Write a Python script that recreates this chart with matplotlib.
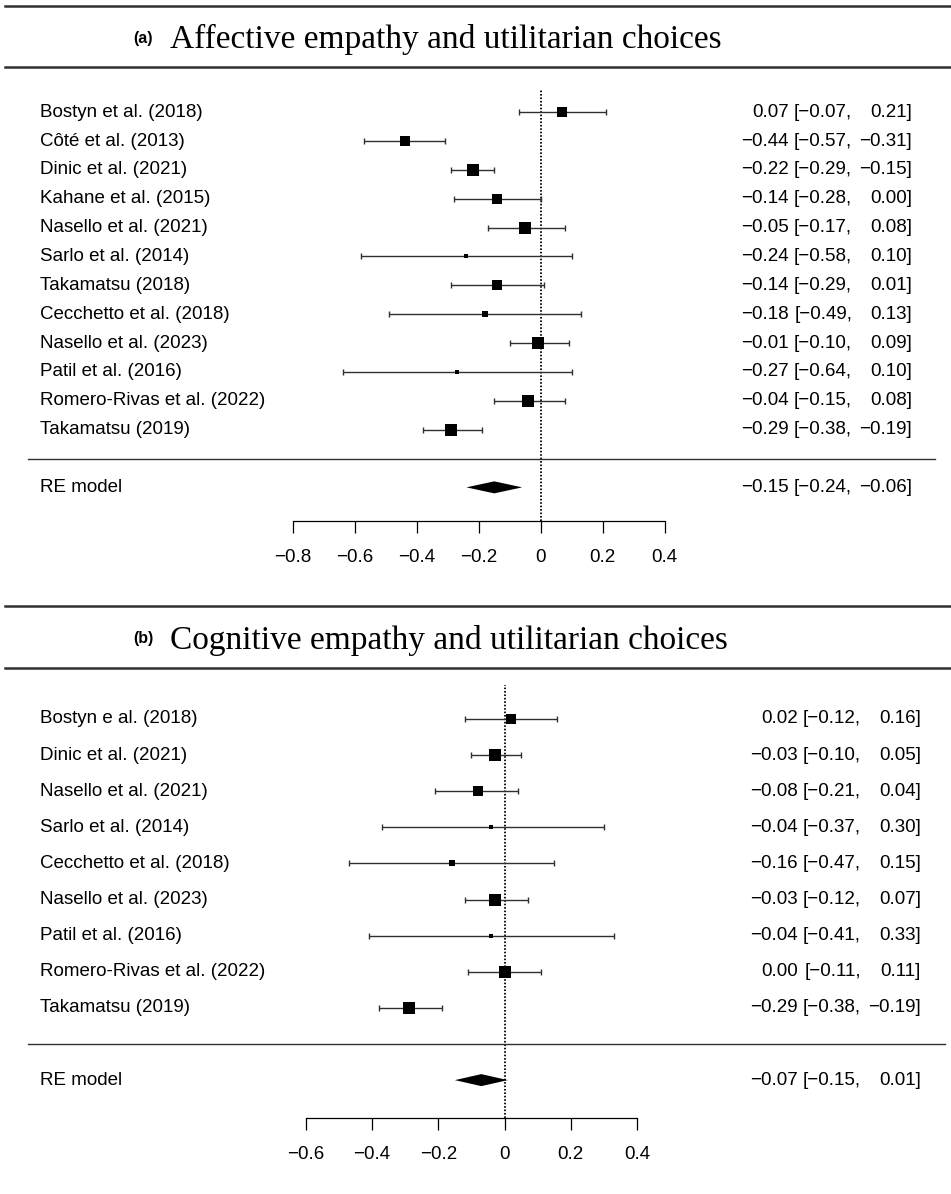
import matplotlib.pyplot as plt
from matplotlib.lines import Line2D
from matplotlib.patches import Polygon

plt.rcParams['font.family'] = ['Liberation Sans', 'DejaVu Sans']

W, H = 951, 1194

# (a) affective empathy
studies_a = ['Bostyn et al. (2018)', 'Côté et al. (2013)', 'Dinic et al. (2021)',
             'Kahane et al. (2015)', 'Nasello et al. (2021)', 'Sarlo et al. (2014)',
             'Takamatsu (2018)', 'Cecchetto et al. (2018)', 'Nasello et al. (2023)',
             'Patil et al. (2016)', 'Romero-Rivas et al. (2022)', 'Takamatsu (2019)']
est_a = [0.07, -0.44, -0.22, -0.14, -0.05, -0.24, -0.14, -0.18, -0.01, -0.27, -0.04, -0.29]
lo_a = [-0.07, -0.57, -0.29, -0.28, -0.17, -0.58, -0.29, -0.49, -0.10, -0.64, -0.15, -0.38]
hi_a = [0.21, -0.31, -0.15, 0.00, 0.08, 0.10, 0.01, 0.13, 0.09, 0.10, 0.08, -0.19]
weights_a = [9.0, 9.3, 10.7, 9.0, 9.4, 4.5, 8.8, 5.0, 10.2, 4.1, 9.7, 10.2]
re_a = (-0.15, -0.24, -0.06)
ticks_a = [-0.8, -0.6, -0.4, -0.2, 0.0, 0.2, 0.4]
tick_labels_a = ['\u22120.8', '\u22120.6', '\u22120.4', '\u22120.2', '0', '0.2', '0.4']

# (b) cognitive empathy
studies_b = ['Bostyn e al. (2018)', 'Dinic et al. (2021)', 'Nasello et al. (2021)',
             'Sarlo et al. (2014)', 'Cecchetto et al. (2018)', 'Nasello et al. (2023)',
             'Patil et al. (2016)', 'Romero-Rivas et al. (2022)', 'Takamatsu (2019)']
est_b = [0.02, -0.03, -0.08, -0.04, -0.16, -0.03, -0.04, 0.00, -0.29]
lo_b = [-0.12, -0.10, -0.21, -0.37, -0.47, -0.12, -0.41, -0.11, -0.38]
hi_b = [0.16, 0.05, 0.04, 0.30, 0.15, 0.07, 0.33, 0.11, -0.19]
weights_b = [12.3, 16.2, 13.2, 4.7, 5.3, 15.0, 4.1, 14.1, 15.0]
re_b = (-0.07, -0.15, 0.01)
ticks_b = [-0.6, -0.4, -0.2, 0.0, 0.2, 0.4]
tick_labels_b = ['\u22120.6', '\u22120.4', '\u22120.2', '0', '0.2', '0.4']

FS = 13.5
LINE = '#303030'


def fmt(v):
    return f'{v:.2f}'.replace('-', '\u2212')


def header(fig, y_top, y_bot, tag, title):
    for y in (y_top, y_bot):
        fig.add_artist(Line2D([5 / W, 1], [1 - y / H] * 2, transform=fig.transFigure,
                              color=LINE, lw=1.8))
    ymid = 1 - ((y_top + y_bot) / 2 + 3) / H
    fig.text(133 / W, ymid + 0.001, tag, fontsize=11.5, fontweight='bold', va='center')
    fig.text(170 / W, ymid, title, family='Liberation Serif', fontsize=24, va='center')


def forest(fig, studies, est, lo, hi, weights, re, ticks, tick_labels, lay):
    x0, sx = lay['x0'], lay['px_per_unit']
    r0, sr = lay['row0'], lay['px_per_row']
    ax = fig.add_axes([0, 1 - lay['axis'] / H, 1, (lay['axis'] - lay['top']) / H])
    ax.set_xlim(-x0 / sx, (W - x0) / sx)
    ax.set_ylim((r0 - lay['axis']) / sr, (r0 - lay['top']) / sr)
    ax.patch.set_visible(False)
    for side in ('top', 'left', 'right'):
        ax.spines[side].set_visible(False)
    ax.spines['bottom'].set_bounds(ticks[0], ticks[-1])
    ax.spines['bottom'].set_linewidth(0.9)
    ax.set_yticks([])
    ax.set_xticks(ticks)
    ax.set_xticklabels(tick_labels)
    ax.tick_params(axis='x', direction='out', length=8.4, width=0.9,
                   labelsize=FS, pad=12)

    k = len(studies)
    rows = list(range(k, 0, -1))
    tr = ax.get_yaxis_transform()

    # reference line at zero
    ax.vlines(0, (r0 - lay['axis']) / sr, (r0 - lay['dot_top']) / sr,
              color='black', lw=1.3, linestyles=[(0, (0.9, 1.0))])

    # square size from the study weights
    wmin, wmax = min(weights), max(weights)
    for r, name, e, l, h, w in zip(rows, studies, est, lo, hi, weights):
        ax.errorbar(e, r, xerr=[[e - l], [h - e]], fmt='none', ecolor=LINE,
                    elinewidth=1.0, capsize=2.5, capthick=1.0)
        psize = (w - wmin) / (wmax - wmin) + 0.5
        ax.plot(e, r, marker='s', ms=psize * 8.5 * 0.72, color='black',
                mew=0, ls='none')
        ax.text(lay['left'] / W, r, name, transform=tr, fontsize=FS, va='center')
        ax.text(lay['c1'] / W, r, fmt(e), transform=tr, fontsize=FS, va='center', ha='right')
        ax.text(lay['c2'] / W, r, '[' + fmt(l) + ',', transform=tr, fontsize=FS,
                va='center', ha='right')
        ax.text(lay['c3'] / W, r, fmt(h) + ']', transform=tr, fontsize=FS,
                va='center', ha='right')

    ax.axhline(0, xmin=lay['sep'][0] / W, xmax=lay['sep'][1] / W, color=LINE, lw=1.0)

    # pooled estimate
    e, l, h = re
    dh = 6.0 / sr
    ax.add_patch(Polygon([(l, -1), (e, -1 + dh), (h, -1), (e, -1 - dh)],
                         closed=True, color='black', lw=0))
    ax.text(lay['left'] / W, -1, 'RE model', transform=tr, fontsize=FS, va='center')
    ax.text(lay['c1'] / W, -1, fmt(e), transform=tr, fontsize=FS, va='center', ha='right')
    ax.text(lay['c2'] / W, -1, '[' + fmt(l) + ',', transform=tr, fontsize=FS,
            va='center', ha='right')
    ax.text(lay['c3'] / W, -1, fmt(h) + ']', transform=tr, fontsize=FS,
            va='center', ha='right')
    return ax


fig = plt.figure(figsize=(W / 100, H / 100), dpi=100)

header(fig, 6, 67, '(a)', 'Affective empathy and utilitarian choices')
forest(fig, studies_a, est_a, lo_a, hi_a, weights_a, re_a, ticks_a, tick_labels_a,
       dict(x0=540.7, px_per_unit=309.5, row0=458.5, px_per_row=28.86,
            top=72, axis=521, dot_top=90, left=40, c1=789, c2=852, c3=912,
            sep=(28, 935)))

header(fig, 606, 668, '(b)', 'Cognitive empathy and utilitarian choices')
forest(fig, studies_b, est_b, lo_b, hi_b, weights_b, re_b, ticks_b, tick_labels_b,
       dict(x0=504.5, px_per_unit=331.0, row0=1044, px_per_row=36.125,
            top=672, axis=1118, dot_top=685, left=40, c1=798, c2=861, c3=921,
            sep=(28, 945)))

fig.savefig('out.png', dpi=100)
